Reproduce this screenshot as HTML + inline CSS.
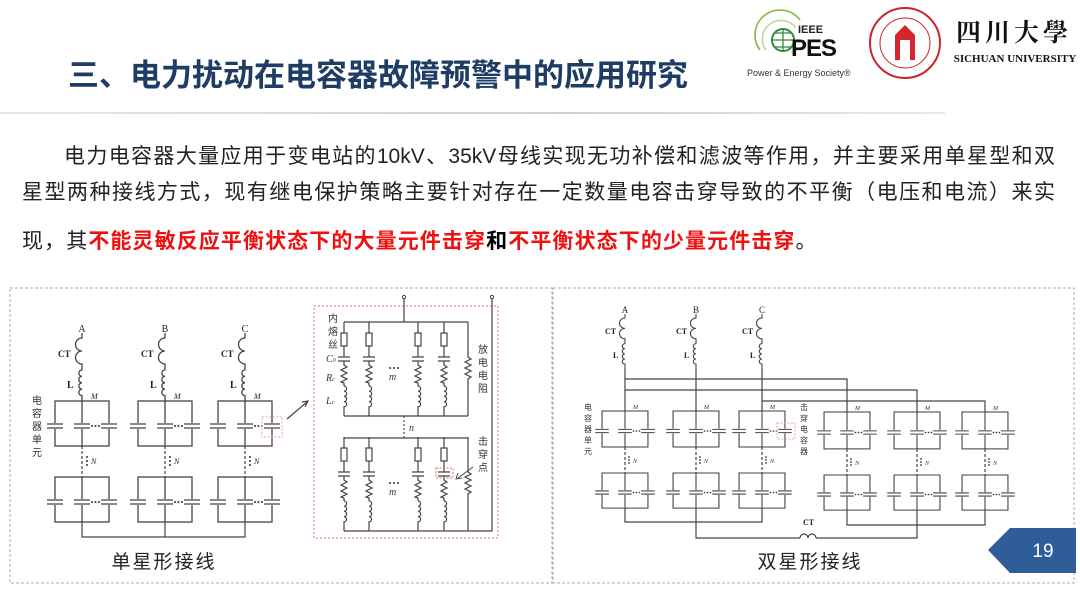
<!DOCTYPE html>
<html><head><meta charset="utf-8"><style>
html,body{margin:0;padding:0;background:#fff;}
body{width:1080px;height:608px;position:relative;overflow:hidden;font-family:"Liberation Sans","Noto Sans CJK SC",sans-serif;}
.title{position:absolute;left:68px;top:50px;font-size:31px;font-weight:bold;color:#1f3d64;white-space:nowrap;letter-spacing:0px;}
.hr{position:absolute;left:0;top:112px;width:945px;height:2px;background:linear-gradient(to right,#e6e6e6,#cfcfcf 60%,#e8e8e8);}
.ln{position:absolute;font-size:21px;color:#222;white-space:nowrap;height:30px;line-height:30px;}
.j{text-align:justify;text-align-last:justify;white-space:normal;}
.red{color:#e11;font-weight:bold;}
.b{font-weight:bold;color:#000;}
svg{position:absolute;left:0;top:0;}
</style></head><body>
<div class="title">三、电力扰动在电容器故障预警中的应用研究</div>
<div class="hr"></div>
<div class="ln j" style="left:64px;top:142px;width:991px;">电力电容器大量应用于变电站的10kV、35kV母线实现无功补偿和滤波等作用，并主要采用单星型和双</div>
<div class="ln j" style="left:22px;top:178px;width:1033px;">星型两种接线方式，现有继电保护策略主要针对存在一定数量电容击穿导致的不平衡（电压和电流）来实</div>
<div class="ln" style="left:22px;top:227px;letter-spacing:1.1px;">现，其<span class="red">不能灵敏反应平衡状态下的大量元件击穿</span><span class="b">和</span><span class="red">不平衡状态下的少量元件击穿</span>。</div>

<svg width="1080" height="608" viewBox="0 0 1080 608" xmlns="http://www.w3.org/2000/svg">
<defs>
<g id="unit" stroke="#444" fill="none" stroke-width="1.3">
<rect x="-27" y="0" width="54" height="45"/>
<line x1="0" y1="0" x2="0" y2="45"/>
<rect x="-36" y="22" width="72" height="6" fill="#fff" stroke="none"/>
<path d="M-35 23H-19M-35 27H-19M-8 23H8M-8 27H8M19 23H35M19 27H35"/>
<circle cx="10" cy="25" r="1" fill="#333" stroke="none"/><circle cx="13.5" cy="25" r="1" fill="#333" stroke="none"/><circle cx="17" cy="25" r="1" fill="#333" stroke="none"/>
</g>
<g id="branch" stroke="#444" fill="none" stroke-width="1.2">
<path d="M0 0V11M0 24V35M0 39V43L3 45L-3 48L3 51L-3 54L3 57L-3 60L0 61V64"/>
<rect x="-3" y="11" width="6" height="13"/>
<path d="M-6 35H6M-6 39H6"/>
<path d="M0 64a2.6 2.6 0 0 1 0 5.2a2.6 2.6 0 0 1 0 5.2a2.6 2.6 0 0 1 0 5.2a2.6 2.6 0 0 1 0 5.2V94"/>
</g>
<g id="res" stroke="#444" fill="none" stroke-width="1.2">
<path d="M0 0V35L3 37L-3 40L3 43L-3 46L3 49L-3 52L3 55L0 57V94"/>
</g>
<g id="ph" stroke="#444" fill="none" stroke-width="1.3">
<path d="M0 -5V0a6 6 0 0 0 0 13a6 6 0 0 0 0 13V32a3.2 3.2 0 0 0 0 6.4a3.2 3.2 0 0 0 0 6.4a3.2 3.2 0 0 0 0 6.4a3.2 3.2 0 0 0 0 6.4V63"/>
</g>
</defs>

<rect x="10" y="288" width="542" height="295" fill="none" stroke="#9fb0bf" stroke-dasharray="3,2" stroke-width="1"/>
<rect x="553" y="288" width="521" height="295" fill="none" stroke="#9fb0bf" stroke-dasharray="3,2" stroke-width="1"/>

<g font-family="Liberation Serif,serif" font-size="10" fill="#222">
<text x="82" y="332" text-anchor="middle">A</text>
<text x="165" y="332" text-anchor="middle">B</text>
<text x="245" y="332" text-anchor="middle">C</text>
<text x="58" y="357" font-weight="bold" font-size="9">CT</text>
<text x="141" y="357" font-weight="bold" font-size="9">CT</text>
<text x="221" y="357" font-weight="bold" font-size="9">CT</text>
<text x="67" y="388" font-weight="bold">L</text>
<text x="150" y="388" font-weight="bold">L</text>
<text x="230" y="388" font-weight="bold">L</text>
<text x="91" y="399" font-style="italic" font-size="8">M</text>
<text x="174" y="399" font-style="italic" font-size="8">M</text>
<text x="254" y="399" font-style="italic" font-size="8">M</text>
<text x="91" y="464" font-style="italic" font-size="8">N</text>
<text x="174" y="464" font-style="italic" font-size="8">N</text>
<text x="254" y="464" font-style="italic" font-size="8">N</text>
</g>
<use href="#ph" x="82" y="338"/><use href="#ph" x="165" y="338"/><use href="#ph" x="245" y="338"/>
<g>
<use href="#unit" x="82" y="401"/><use href="#unit" x="82" y="477"/>
<use href="#unit" x="165" y="401"/><use href="#unit" x="165" y="477"/>
<use href="#unit" x="245" y="401"/><use href="#unit" x="245" y="477"/>
</g>
<g stroke="#444" stroke-width="1.2" fill="none">
<path d="M82 446V477M165 446V477M245 446V477" stroke-dasharray="3,2"/>
<path d="M82 522V537H245V522M165 522V537"/>
<path d="M287 419L307 402"/><path d="M302 402L308 401L305 407"/>
</g>
<g fill="#333"><circle cx="87" cy="457" r="1"/><circle cx="87" cy="461" r="1"/><circle cx="87" cy="465" r="1"/>
<circle cx="170" cy="457" r="1"/><circle cx="170" cy="461" r="1"/><circle cx="170" cy="465" r="1"/>
<circle cx="250" cy="457" r="1"/><circle cx="250" cy="461" r="1"/><circle cx="250" cy="465" r="1"/></g>
<rect x="262" y="417" width="20" height="20" fill="none" stroke="#e8a0a0" stroke-dasharray="2,1.5"/>
<g font-size="10" fill="#333" text-anchor="middle">
<text x="37" y="404">电</text><text x="37" y="417">容</text><text x="37" y="430">器</text><text x="37" y="443">单</text><text x="37" y="456">元</text>
</g>

<rect x="314" y="306" width="184" height="232" fill="none" stroke="#e07070" stroke-dasharray="2,2"/>
<g stroke="#444" stroke-width="1.2" fill="none">
<path d="M404 298V322M344 322H468M344 416H468" />
<path d="M404 416V438" stroke-dasharray="2,2"/>
<path d="M344 438H468M344 531H492V298"/>
</g>
<circle cx="404" cy="297" r="1.6" fill="#fff" stroke="#444"/><circle cx="492" cy="297" r="1.6" fill="#fff" stroke="#444"/>
<use href="#branch" x="344" y="322"/><use href="#branch" x="369" y="322"/><use href="#branch" x="418" y="322"/><use href="#branch" x="444" y="322"/><use href="#res" x="468" y="322"/>
<use href="#branch" x="344" y="437"/><use href="#branch" x="369" y="437"/><use href="#branch" x="418" y="437"/><use href="#branch" x="444" y="437"/><use href="#res" x="468" y="437"/>
<rect x="436" y="468" width="17" height="10" fill="none" stroke="#e07070" stroke-dasharray="2,1.5"/>
<path d="M473 467L458 478" stroke="#444" fill="none"/><path d="M458 473L456 479L462 478" stroke="#444" fill="none"/>
<g fill="#333"><circle cx="390" cy="368" r="1"/><circle cx="394" cy="368" r="1"/><circle cx="398" cy="368" r="1"/>
<circle cx="390" cy="483" r="1"/><circle cx="394" cy="483" r="1"/><circle cx="398" cy="483" r="1"/></g>
<g font-family="Liberation Serif,serif" font-style="italic" fill="#333" font-size="10">
<text x="389" y="380">m</text><text x="389" y="495">m</text><text x="409" y="431">n</text>
<text x="326" y="362">C<tspan font-size="6">0</tspan></text><text x="326" y="381">R<tspan font-size="6">c</tspan></text><text x="326" y="404">L<tspan font-size="6">c</tspan></text>
</g>
<g font-size="10" fill="#333" text-anchor="middle">
<text x="333" y="322">内</text><text x="333" y="335">熔</text><text x="333" y="348">丝</text>
<text x="483" y="353">放</text><text x="483" y="366">电</text><text x="483" y="379">电</text><text x="483" y="392">阻</text>
<text x="483" y="445">击</text><text x="483" y="458">穿</text><text x="483" y="471">点</text>
</g>
<text x="164" y="568" font-size="19" text-anchor="middle" fill="#222" letter-spacing="2">单星形接线</text>

<g font-family="Liberation Serif,serif" font-size="9" fill="#222">
<text x="625" y="313" text-anchor="middle">A</text><text x="696" y="313" text-anchor="middle">B</text><text x="762" y="313" text-anchor="middle">C</text>
<text x="605" y="334" font-weight="bold" font-size="8">CT</text><text x="676" y="334" font-weight="bold" font-size="8">CT</text><text x="742" y="334" font-weight="bold" font-size="8">CT</text>
<text x="613" y="358" font-weight="bold" font-size="8">L</text><text x="684" y="358" font-weight="bold" font-size="8">L</text><text x="750" y="358" font-weight="bold" font-size="8">L</text>
<text x="803" y="525" font-weight="bold" font-size="8">CT</text>
</g>
<g transform="translate(625,318) scale(0.85,0.8)"><use href="#ph"/></g>
<g transform="translate(696,318) scale(0.85,0.8)"><use href="#ph"/></g>
<g transform="translate(762,318) scale(0.85,0.8)"><use href="#ph"/></g>
<g stroke="#444" stroke-width="1.2" fill="none">
<path d="M625 368V411M696 368V411M762 368V411"/>
<path d="M625 379H847V412M625 390H917V412M762 401H985V412"/>
<path d="M625 447V473M696 447V473M762 447V473M847 449V475M917 449V475M985 449V475" stroke-dasharray="3,2"/>
<path d="M625 508V522H762V508M847 510V525H985V510M696 508V538H800M816 538H917V510"/>
<path d="M800 538a4 4 0 0 1 8 0a4 4 0 0 1 8 0"/>
</g>
<g transform="translate(625,411) scale(0.85,0.8)"><use href="#unit"/></g>
<g transform="translate(696,411) scale(0.85,0.8)"><use href="#unit"/></g>
<g transform="translate(762,411) scale(0.85,0.8)"><use href="#unit"/></g>
<g transform="translate(625,473) scale(0.85,0.78)"><use href="#unit"/></g>
<g transform="translate(696,473) scale(0.85,0.78)"><use href="#unit"/></g>
<g transform="translate(762,473) scale(0.85,0.78)"><use href="#unit"/></g>
<g transform="translate(847,412) scale(0.85,0.82)"><use href="#unit"/></g>
<g transform="translate(917,412) scale(0.85,0.82)"><use href="#unit"/></g>
<g transform="translate(985,412) scale(0.85,0.82)"><use href="#unit"/></g>
<g transform="translate(847,475) scale(0.85,0.78)"><use href="#unit"/></g>
<g transform="translate(917,475) scale(0.85,0.78)"><use href="#unit"/></g>
<g transform="translate(985,475) scale(0.85,0.78)"><use href="#unit"/></g>
<rect x="777" y="423" width="18" height="16" fill="none" stroke="#e8a0a0" stroke-dasharray="2,1.5"/>
<g fill="#333"><circle cx="629" cy="457" r="0.9"/><circle cx="629" cy="460" r="0.9"/><circle cx="629" cy="463" r="0.9"/>
<circle cx="700" cy="457" r="0.9"/><circle cx="700" cy="460" r="0.9"/><circle cx="700" cy="463" r="0.9"/>
<circle cx="766" cy="457" r="0.9"/><circle cx="766" cy="460" r="0.9"/><circle cx="766" cy="463" r="0.9"/>
<circle cx="851" cy="459" r="0.9"/><circle cx="851" cy="462" r="0.9"/><circle cx="851" cy="465" r="0.9"/>
<circle cx="921" cy="459" r="0.9"/><circle cx="921" cy="462" r="0.9"/><circle cx="921" cy="465" r="0.9"/>
<circle cx="989" cy="459" r="0.9"/><circle cx="989" cy="462" r="0.9"/><circle cx="989" cy="465" r="0.9"/></g>
<g font-family="Liberation Serif,serif" font-style="italic" fill="#333" font-size="6">
<text x="633" y="463">N</text><text x="704" y="463">N</text><text x="770" y="463">N</text><text x="855" y="465">N</text><text x="925" y="465">N</text><text x="993" y="465">N</text>
<text x="633" y="409">M</text><text x="704" y="409">M</text><text x="770" y="409">M</text><text x="855" y="410">M</text><text x="925" y="410">M</text><text x="993" y="410">M</text>
</g>
<g font-size="8" fill="#333" text-anchor="middle">
<text x="588" y="410">电</text><text x="588" y="421">容</text><text x="588" y="432">器</text><text x="588" y="443">单</text><text x="588" y="454">元</text>
<text x="804" y="410">击</text><text x="804" y="421">穿</text><text x="804" y="432">电</text><text x="804" y="443">容</text><text x="804" y="454">器</text>
</g>
<text x="810" y="568" font-size="19" text-anchor="middle" fill="#222" letter-spacing="2">双星形接线</text>

<polygon points="988,550 1010,528 1076,528 1076,573 1010,573" fill="#2f5d98"/>
<text x="1043" y="557" font-size="19" fill="#fff" text-anchor="middle">19</text>

<g fill="none" stroke="#7fb53a" stroke-width="1.5">
<path d="M760 50a22 22 0 0 1 40 -30"/><path d="M766 50a16 16 0 0 1 30 -22" stroke="#bcd79a"/>
</g>
<circle cx="783" cy="40" r="11" fill="none" stroke="#2e8b3c" stroke-width="2"/>
<path d="M772 40H794M783 29V51M775 33H791M775 47H791" stroke="#2e8b3c" stroke-width="1.3"/>
<text x="798" y="33" font-size="11" font-weight="bold" fill="#222">IEEE</text>
<text x="791" y="56" font-size="24" font-weight="bold" fill="#111" letter-spacing="-1">PES</text>
<text x="747" y="76" font-size="9" fill="#333">Power &amp; Energy Society®</text>
<circle cx="905" cy="43" r="35" fill="none" stroke="#c8252c" stroke-width="2"/>
<circle cx="905" cy="43" r="25" fill="none" stroke="#c8252c" stroke-width="1"/>
<path d="M895 60V35L905 25L915 35V60H910V40H900V60Z" fill="#d6262c"/>
<text x="1014" y="41" font-size="25" font-family="Liberation Serif,Noto Serif CJK SC,serif" font-weight="bold" text-anchor="middle" fill="#111" letter-spacing="4">四川大學</text>
<text x="1015" y="62" font-size="11" font-family="Liberation Serif,serif" font-weight="bold" text-anchor="middle" fill="#111">SICHUAN UNIVERSITY</text>
</svg>
</body></html>
